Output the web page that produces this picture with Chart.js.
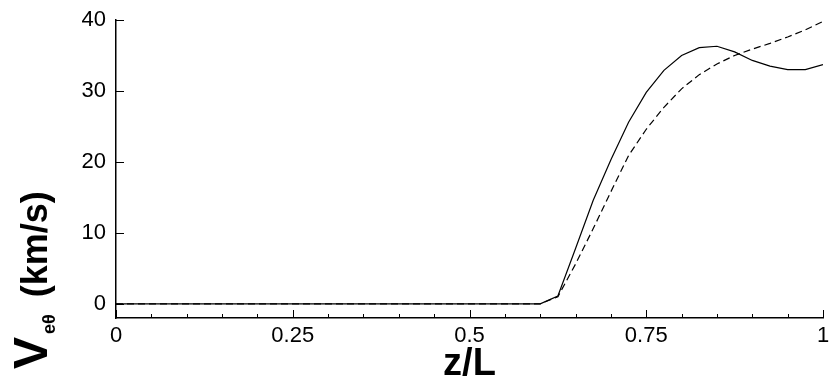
<!DOCTYPE html>
<html>
<head>
<meta charset="utf-8">
<script src="https://cdn.jsdelivr.net/npm/chart.js@4.4.1/dist/chart.umd.min.js"></script>
<style>
html,body{margin:0;padding:0;background:#fff;}
#wrap{width:830px;height:381px;position:relative;}
</style>
</head>
<body>
<div id="wrap"><canvas id="c"></canvas></div>
<script>
// z/L sample positions
const zL = [0,0.025,0.05,0.075,0.1,0.125,0.15,0.175,0.2,0.225,0.25,0.275,0.3,0.325,0.35,0.375,0.4,0.425,0.45,0.475,
  0.5,0.525,0.55,0.575,0.6,0.625,0.65,0.675,0.7,0.725,0.75,0.775,0.8,0.825,0.85,0.875,0.9,0.925,0.95,0.975,1];
// V_etheta, solid curve (km/s)
const veSolid = [0,0,0,0,0,0,0,0,0,0,0,0,0,0,0,0,0,0,0,0,
  0,0,0,0,0,1.1,7.8,14.6,20.3,25.6,29.8,32.9,35.0,36.1,36.3,35.5,34.3,33.5,33.0,33.0,33.7];
// V_etheta, dashed curve (km/s)
const veDashed = [0,0,0,0,0,0,0,0,0,0,0,0,0,0,0,0,0,0,0,0,
  0,0,0,0,0,1.0,5.6,10.6,15.8,20.9,24.6,27.7,30.3,32.3,33.8,35.0,35.9,36.7,37.6,38.6,39.8];

const xTickVals = [0,0.05,0.1,0.15,0.2,0.25,0.3,0.35,0.4,0.45,0.5,0.55,0.6,0.65,0.7,0.75,0.8,0.85,0.9,0.95,1];
const xMajor = [0,0.25,0.5,0.75,1];
const xMajorLabels = ['0','0.25','0.5','0.75','1'];
const yTickVals = [0,10,20,30,40];

const pts = arr => arr.map((v,i)=>({x:zL[i],y:v}));

// ticks drawn inward + axis titles
const axisDeco = {
  id:'axisDeco',
  afterDraw(chart){
    const ctx=chart.ctx, xs=chart.scales.x, ys=chart.scales.y, a=chart.chartArea;
    ctx.save();
    ctx.strokeStyle='#000'; ctx.lineWidth=1;
    xTickVals.forEach(v=>{
      const px=Math.round(xs.getPixelForValue(v))+0.5;
      const len=xMajor.includes(v)?8:4;
      ctx.beginPath(); ctx.moveTo(px,a.bottom); ctx.lineTo(px,a.bottom-len); ctx.stroke();
    });
    yTickVals.forEach(v=>{
      const py=Math.round(ys.getPixelForValue(v))+0.5;
      ctx.beginPath(); ctx.moveTo(a.left,py); ctx.lineTo(a.left+8,py); ctx.stroke();
    });
    ctx.fillStyle='#000';
    // x title
    ctx.font='bold 38px "Liberation Sans", Arial, sans-serif';
    ctx.textAlign='center'; ctx.textBaseline='alphabetic';
    ctx.fillText('z/L',(a.left+a.right)/2,375);
    // y title, rotated, with subscript
    ctx.translate(47,369); ctx.rotate(-Math.PI/2);
    ctx.textAlign='left';
    ctx.font='bold 48px "Liberation Sans", Arial, sans-serif';
    ctx.fillText('V',0,0);
    let off=ctx.measureText('V').width+3;
    ctx.font='bold 18px "Liberation Sans", Arial, sans-serif';
    ctx.fillText('eθ',off,8);
    off+=ctx.measureText('eθ').width+17;
    ctx.font='bold 36px "Liberation Sans", Arial, sans-serif';
    ctx.fillText('(km/s)',off,0);
    ctx.restore();
  }
};

new Chart('c',{
  type:'line',
  data:{
    datasets:[
      {label:'solid',data:pts(veSolid),borderColor:'#000',borderWidth:1.2,pointRadius:0,fill:false,tension:0},
      {label:'dashed',data:pts(veDashed),borderColor:'#000',borderWidth:1.2,borderDash:[7,4],pointRadius:0,fill:false,tension:0}
    ]
  },
  options:{
    responsive:true,maintainAspectRatio:false,animation:false,
    layout:{padding:{top:20,right:7,left:0,bottom:0}},
    plugins:{legend:{display:false},tooltip:{enabled:false}},
    scales:{
      x:{type:'linear',min:0,max:1,
        afterBuildTicks:s=>{s.ticks=xTickVals.map(v=>({value:v}));},
        afterFit:s=>{s.height=63;s.paddingLeft=0;s.paddingRight=0;},
        grid:{display:false,drawTicks:false},
        border:{display:true,color:'#000',width:1.5},
        ticks:{autoSkip:false,maxRotation:0,padding:5,color:'#000',
          font:{family:'"Liberation Sans", Arial, sans-serif',size:22},
          callback:v=>{const i=xMajor.indexOf(v);return i>=0?xMajorLabels[i]:'';}}
      },
      y:{min:-2,max:40,
        afterBuildTicks:s=>{s.ticks=yTickVals.map(v=>({value:v}));},
        afterFit:s=>{s.width=116;s.paddingTop=0;s.paddingBottom=0;},
        grid:{display:false,drawTicks:false},
        border:{display:true,color:'#000',width:1.5},
        ticks:{padding:10,color:'#000',
          font:{family:'"Liberation Sans", Arial, sans-serif',size:22}}
      }
    }
  },
  plugins:[axisDeco]
});
</script>
</body>
</html>
